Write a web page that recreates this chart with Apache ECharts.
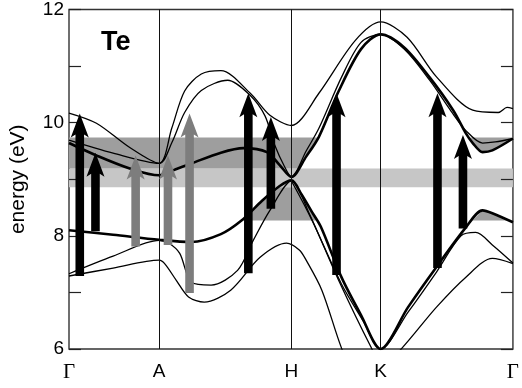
<!DOCTYPE html>
<html>
<head>
<meta charset="utf-8">
<script src="https://cdn.jsdelivr.net/npm/echarts@6/dist/echarts.min.js"></script>
<style>
  html, body { margin: 0; padding: 0; background: #fff; }
  #chart { width: 522px; height: 388px; }
</style>
</head>
<body>
<div id="chart"></div>
<script>
// High-symmetry points along the k path (path-length units) and their labels
const kPoints = [0, 0.92, 2.27, 3.18, 4.53];
const kLabels = ['Γ', 'A', 'H', 'K', 'Γ'];
const energyLabels = [6, 8, 10, 12];

// Band energies (eV) as [k, E] pairs
const bandL1 = [[0, 7.29], [0.45, 7.43], [0.92, 7.57], [0.98, 7.5], [1.1, 7.2], [1.22, 6.92], [1.38, 6.83],
  [1.65, 7.04], [1.95, 7.62], [2.22, 7.87], [2.35, 7.75], [2.42, 7.57], [2.58, 7.04], [2.78, 6.02], [2.9, 5.6]];
const bandB = [[0, 7.33], [0.45, 7.64], [0.92, 7.92], [1.02, 7.87], [1.13, 7.69], [1.25, 7.18], [1.45, 7.13],
  [1.72, 7.39], [1.88, 7.92], [2.05, 8.45], [2.27, 8.97], [2.45, 8.4], [2.75, 7.22], [3.08, 6.04], [3.2, 5.7],
  [3.4, 6.02], [3.75, 6.74], [4.05, 7.27], [4.32, 7.6], [4.53, 7.51]];
const bandD = [[2.27, 8.97], [2.4, 8.55], [2.5, 8.2], [2.78, 7.15], [3.0, 6.5], [3.18, 6.0], [3.46, 6.65],
  [3.75, 7.36], [4.0, 8.0], [4.15, 8.06], [4.32, 7.84], [4.53, 7.52]];
const bandV = [[0, 8.10], [0.45, 8.02], [0.92, 7.93], [1.25, 7.89], [1.55, 8.03], [1.76, 8.27], [1.97, 8.62],
  [2.15, 8.88], [2.27, 8.98], [2.37, 8.74], [2.48, 8.42], [2.57, 8.16], [2.78, 7.27], [2.98, 6.6], [3.18, 6.0],
  [3.46, 6.74], [3.75, 7.45], [4.05, 8.15], [4.22, 8.45], [4.32, 8.4], [4.53, 8.24]];
const bandC = [[0, 9.64], [0.28, 9.42], [0.62, 9.19], [0.92, 9.07], [1.05, 9.15], [1.25, 9.28], [1.55, 9.47],
  [1.78, 9.55], [2.02, 9.48], [2.15, 9.25], [2.27, 9.04], [2.42, 9.4], [2.55, 9.75], [2.75, 10.55], [2.98, 11.3],
  [3.18, 11.56], [3.42, 11.33], [3.68, 10.8], [3.92, 10.22], [4.05, 9.81], [4.12, 9.64], [4.22, 9.48],
  [4.32, 9.51], [4.53, 9.72]];
const bandT2 = [[0, 9.69], [0.45, 9.46], [0.92, 9.28], [1.05, 9.65], [1.18, 10.18], [1.35, 10.57], [1.62, 10.75],
  [1.85, 10.48], [2.0, 10.12], [2.1, 9.6], [2.2, 9.22], [2.27, 9.04], [2.42, 9.5], [2.55, 9.9], [2.78, 10.8],
  [2.98, 11.42], [3.18, 11.56], [3.42, 11.3], [3.68, 10.75], [3.9, 10.2], [4.05, 9.86], [4.22, 9.64],
  [4.35, 9.66], [4.53, 9.72]];
const bandT1 = [[0, 10.17], [0.28, 9.99], [0.62, 9.56], [0.92, 9.28], [1.05, 9.91], [1.18, 10.56], [1.35, 10.86],
  [1.55, 10.92], [1.85, 10.52], [2.05, 10.13], [2.27, 9.95], [2.55, 10.52], [2.92, 11.45], [3.18, 11.78],
  [3.45, 11.51], [3.75, 10.81], [4.12, 10.22], [4.38, 10.18], [4.47, 10.27], [4.53, 10.25]];

const thickBands = [bandV, bandC];
const thinBands = [bandL1, bandB, bandD, bandT2, bandT1];

// Optical transitions: [k, E start, E end, tone]
const transitions = [
  [0.11, 7.29, 10.16, 'black'],
  [0.27, 8.08, 9.47, 'black'],
  [0.68, 7.81, 9.42, 'gray'],
  [1.01, 7.84, 9.42, 'gray'],
  [1.23, 6.99, 10.16, 'gray'],
  [1.83, 7.34, 10.52, 'black'],
  [2.06, 8.48, 10.10, 'black'],
  [2.73, 7.31, 10.52, 'black'],
  [3.76, 7.43, 10.52, 'black'],
  [4.02, 8.13, 9.78, 'black']
];

// Energy windows (eV)
const lightWindow = [8.86, 9.19];
const upperWindow = [9.19, 9.74];
const lowerWindow = [8.27, 8.86];

const kStart = kPoints[0], kEnd = kPoints[kPoints.length - 1], kH = kPoints[2];

function bandAt(band, k) {
  for (let i = 1; i < band.length; i++) {
    if (k <= band[i][0]) {
      const [k0, e0] = band[i - 1], [k1, e1] = band[i];
      return e0 + (e1 - e0) * (k - k0) / (k1 - k0);
    }
  }
  return band[band.length - 1][1];
}

// Polygons covering {lo(k) < E < hi(k)} along the path
function regionPolygons(lo, hi) {
  const polys = [];
  let top = null, bot = null;
  const n = 900;
  for (let i = 0; i <= n; i++) {
    const k = kStart + (kEnd - kStart) * i / n;
    const a = lo(k), b = hi(k);
    if (b > a) {
      if (!top) { top = []; bot = []; }
      top.push([k, b]); bot.push([k, a]);
    } else if (top) {
      polys.push(top.concat(bot.reverse())); top = null;
    }
  }
  if (top) polys.push(top.concat(bot.reverse()));
  return polys;
}

const lightPolys = regionPolygons(() => lightWindow[0], () => lightWindow[1]);
const upperPolys = regionPolygons(
  k => (k <= kH ? upperWindow[0] : Math.max(upperWindow[0], bandAt(bandC, k))),
  () => upperWindow[1]);
const lowerPolys = regionPolygons(
  () => lowerWindow[0],
  k => Math.min(lowerWindow[1], bandAt(bandV, k)));

function polygonSeries(polys, color, z) {
  return {
    type: 'custom', z: z, silent: true, animation: false,
    data: polys.map(p => p[0]),
    renderItem: (params, api) => ({
      type: 'polygon',
      shape: { points: polys[params.dataIndex].map(p => api.coord(p)) },
      style: { fill: color }
    })
  };
}

function lineSeries(band, width) {
  return {
    type: 'line', data: band, showSymbol: false, smooth: 0.3, z: 3,
    silent: true, animation: false, clip: true,
    lineStyle: { color: '#000', width: width }
  };
}

const arrowSeries = {
  type: 'custom', z: 5, silent: true, animation: false,
  data: transitions.map(t => [t[0], t[1], t[2]]),
  renderItem: (params, api) => {
    const t = transitions[params.dataIndex];
    const base = api.coord([t[0], t[1]]);
    const tip = api.coord([t[0], t[2]]);
    const x = base[0], yb = base[1], yt = tip[1];
    const sw = 4.3, hw = 9, hl = 21, notch = 3;
    return {
      type: 'polygon',
      shape: { points: [[x - sw, yb], [x - sw, yt + hl], [x - hw, yt + hl + notch], [x, yt],
        [x + hw, yt + hl + notch], [x + sw, yt + hl], [x + sw, yb]] },
      style: { fill: t[3] === 'gray' ? '#7d7d7d' : '#000' }
    };
  }
};

const chart = echarts.init(document.getElementById('chart'), null, { renderer: 'canvas' });

const tickStyle = { show: true, inside: true, length: 12, lineStyle: { color: '#222', width: 1.2 } };

chart.setOption({
  animation: false,
  backgroundColor: '#fff',
  grid: { left: 65, right: 4, top: 9, bottom: 39, show: true, borderColor: '#333', borderWidth: 1.4 },
  xAxis: {
    type: 'value', min: kStart, max: kEnd,
    axisLine: { show: false }, axisTick: { show: false }, splitLine: { show: false },
    axisLabel: {
      customValues: kPoints, margin: 13,
      formatter: v => {
        const s = kLabels[kPoints.indexOf(v)];
        return s === 'Γ' ? '{g|Γ}' : '{s|' + s + '}';
      },
      rich: {
        g: { fontFamily: 'Liberation Serif', fontSize: 21, color: '#000' },
        s: { fontFamily: 'Liberation Sans', fontSize: 19, color: '#000' }
      }
    }
  },
  yAxis: [{
    type: 'value', min: 6, max: 12, interval: 1, position: 'left',
    axisLine: { show: false }, axisTick: tickStyle, splitLine: { show: false },
    axisLabel: {
      margin: 5, fontFamily: 'Liberation Sans', fontSize: 19, color: '#000',
      formatter: v => (energyLabels.includes(v) ? String(v) : '')
    },
    name: 'energy (eV)', nameLocation: 'middle', nameGap: 40,
    nameTextStyle: { fontFamily: 'Liberation Sans', fontSize: 21, color: '#000' }
  }, {
    type: 'value', min: 6, max: 12, interval: 1, position: 'right',
    axisLine: { show: false }, axisTick: tickStyle, splitLine: { show: false },
    axisLabel: { show: false }
  }],
  graphic: [{
    type: 'text', left: 101, top: 29,
    style: { text: 'Te', font: 'bold 27px "Liberation Sans"', fill: '#000' }
  }],
  series: [
    polygonSeries(lightPolys, '#c6c6c6', 0),
    polygonSeries(upperPolys, '#9e9e9e', 1),
    polygonSeries(lowerPolys, '#9e9e9e', 1),
    {
      type: 'line', data: [], z: 2, silent: true,
      markLine: {
        silent: true, symbol: ['none', 'none'], label: { show: false },
        lineStyle: { color: '#111', width: 1, type: 'solid' },
        data: kPoints.slice(1, -1).map(k => ({ xAxis: k }))
      }
    },
    ...thinBands.map(b => lineSeries(b, 1.3)),
    ...thickBands.map(b => lineSeries(b, 2.6)),
    arrowSeries
  ]
});
</script>
</body>
</html>
